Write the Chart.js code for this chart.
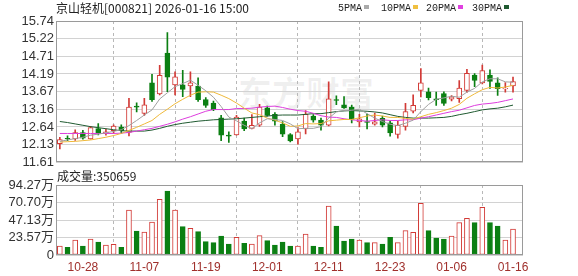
<!DOCTYPE html>
<html>
<head>
<meta charset="utf-8">
<script src="https://cdn.jsdelivr.net/npm/chart.js@4"></script>
<style>
body{margin:0;background:#fff;}
#wrap{position:relative;width:578px;height:276px;overflow:hidden;font-family:"Noto Sans CJK SC",sans-serif;}
.txt{position:absolute;white-space:nowrap;color:#222;}
#title{left:56px;top:1px;font-size:12px;line-height:14px;}
#volTitle{left:57px;top:169px;font-size:12px;line-height:14px;}
.lg{position:absolute;top:3px;font-family:"Liberation Mono",monospace;font-size:10px;line-height:12px;color:#222;}
.lg i{display:inline-block;width:5px;height:4px;margin-left:2px;vertical-align:2px;}
#mark{left:238px;top:72px;font-size:34px;font-weight:bold;color:rgba(0,0,0,0.06);line-height:40px;}
#priceBox{position:absolute;left:0;top:0;width:578px;height:172px;}
#volBox{position:absolute;left:0;top:172px;width:578px;height:104px;}
</style>
</head>
<body>
<div id="wrap">
  <div class="txt" id="mark">东方财富</div>
  <div id="priceBox"><canvas id="price"></canvas></div>
  <div id="volBox"><canvas id="vol"></canvas></div>
  <div class="txt" id="title">京山轻机[000821] 2026-01-16 15:00</div>
  <div class="txt" id="volTitle">成交量:350659</div>
  <div class="lg" style="left:338px">5PMA<i style="background:#aaaaaa"></i></div>
  <div class="lg" style="left:381px">10PMA<i style="background:#f0c040"></i></div>
  <div class="lg" style="left:426px">20PMA<i style="background:#e040e0"></i></div>
  <div class="lg" style="left:472px">30PMA<i style="background:#1f5a30"></i></div>
</div>
<script>
// trading days shown
const dates = ['10-23','10-24','10-27','10-28','10-29','10-30','10-31','11-03','11-04','11-05',
  '11-06','11-07','11-10','11-11','11-12','11-13','11-14','11-17','11-18','11-19',
  '11-20','11-21','11-24','11-25','11-26','11-27','11-28','12-01','12-02','12-03',
  '12-04','12-05','12-08','12-09','12-10','12-11','12-12','12-15','12-16','12-17',
  '12-18','12-19','12-22','12-23','12-24','12-25','12-26','12-29','12-30','12-31',
  '01-05','01-06','01-07','01-08','01-09','01-12','01-13','01-14','01-15','01-16']
const openP = [12.15,12.31,12.29,12.48,12.29,12.59,12.46,12.53,12.64,12.48,
  13.25,13.04,13.93,13.61,14.80,13.87,13.87,13.84,13.84,13.44,
  13.34,12.91,12.40,12.41,12.81,12.60,12.69,13.20,13.01,12.72,
  12.42,12.29,12.58,12.96,12.84,12.69,13.44,13.29,13.22,12.79,
  12.80,12.72,12.89,12.76,12.42,12.66,13.10,13.71,13.67,13.46,
  13.62,13.45,13.47,13.71,14.16,13.93,14.16,13.93,13.75,13.84]
const highP = [12.34,12.38,12.56,12.54,12.66,12.74,12.58,12.70,12.70,13.48,
  13.35,13.48,14.18,14.44,15.40,14.25,14.30,14.25,14.08,13.50,
  13.40,12.98,12.50,12.98,12.90,13.00,13.30,13.25,13.06,12.80,
  12.45,12.62,13.12,13.00,12.90,13.96,13.55,13.53,13.28,13.01,
  13.02,13.05,12.96,12.82,12.81,13.33,13.58,14.35,13.78,13.66,
  13.67,13.56,14.00,14.33,14.20,14.45,14.31,14.08,13.94,14.10]
const lowP = [12.00,12.24,12.25,12.28,12.28,12.41,12.40,12.45,12.45,12.38,
  13.08,12.98,13.39,13.58,13.67,13.58,13.53,13.53,13.39,13.21,
  13.12,12.24,12.19,12.40,12.53,12.58,12.66,12.96,12.69,12.36,
  12.20,12.14,12.44,12.78,12.55,12.67,13.29,13.18,12.76,12.64,
  12.58,12.69,12.64,12.37,12.31,12.55,13.05,13.52,13.43,13.27,
  13.27,13.40,13.36,13.65,13.82,13.90,13.77,13.56,13.66,13.66]
const closeP = [12.27,12.29,12.48,12.31,12.62,12.46,12.50,12.67,12.53,13.22,
  13.22,13.29,13.44,14.15,14.10,14.11,13.74,13.93,13.44,13.27,
  13.15,12.40,12.37,12.93,12.58,12.69,13.22,12.98,12.81,12.43,
  12.23,12.50,13.01,12.84,12.69,13.46,13.42,13.20,12.86,12.88,
  12.77,12.79,12.69,12.47,12.69,13.09,13.27,13.93,13.50,13.44,
  13.33,13.52,13.78,14.21,14.00,14.29,13.97,13.76,13.77,13.97]
const ma5 = [12.22,12.26,12.30,12.34,12.40,12.43,12.47,12.51,12.56,12.68,
  12.83,12.99,13.14,13.46,13.64,13.82,13.91,14.01,13.86,13.70,
  13.51,13.24,12.93,12.82,12.69,12.59,12.76,12.88,12.86,12.83,
  12.73,12.59,12.60,12.60,12.65,12.90,13.08,13.12,13.13,13.16,
  13.03,12.90,12.80,12.72,12.68,12.75,12.84,13.09,13.30,13.45,
  13.49,13.54,13.51,13.66,13.77,13.96,14.05,14.05,13.96,13.95]
const ma10 = [12.20,12.21,12.22,12.24,12.26,12.30,12.34,12.39,12.45,12.54,
  12.63,12.73,12.83,13.01,13.16,13.32,13.45,13.57,13.66,13.67,
  13.66,13.57,13.47,13.34,13.19,13.05,13.00,12.90,12.84,12.76,
  12.66,12.67,12.74,12.73,12.74,12.82,12.84,12.86,12.86,12.91,
  12.96,12.99,12.96,12.92,12.92,12.89,12.87,12.94,13.01,13.06,
  13.12,13.19,13.30,13.48,13.61,13.73,13.80,13.78,13.81,13.86]
const ma20 = [12.45,12.45,12.45,12.45,12.45,12.45,12.45,12.45,12.46,12.48,
  12.52,12.56,12.60,12.66,12.72,12.79,12.87,12.94,13.02,13.10,
  13.15,13.15,13.15,13.18,13.18,13.19,13.22,13.24,13.25,13.21,
  13.16,13.12,13.10,13.04,12.97,12.93,12.92,12.88,12.85,12.83,
  12.81,12.83,12.85,12.83,12.83,12.85,12.85,12.90,12.94,12.99,
  13.04,13.09,13.13,13.20,13.27,13.31,13.33,13.36,13.41,13.46]
const ma30 = [12.80,12.77,12.73,12.69,12.65,12.62,12.59,12.56,12.53,12.52,
  12.52,12.52,12.55,12.60,12.66,12.71,12.75,12.78,12.81,12.83,
  12.85,12.86,12.87,12.88,12.90,12.92,12.94,12.96,12.98,12.99,
  12.99,12.99,13.01,13.03,13.03,13.06,13.09,13.11,13.12,13.11,
  13.10,13.08,13.05,13.00,12.95,12.92,12.90,12.90,12.90,12.91,
  12.92,12.95,13.00,13.04,13.09,13.14,13.17,13.19,13.23,13.28]
// volume in 万
const volume = [12.1,10.3,20.2,12.1,21.6,17.5,13.5,14.4,10.3,60.6,
  32.3,31.0,44.5,75.0,86.2,60.6,38.2,35.9,31.4,18.0,
  16.6,25.6,14.8,23.8,15.7,14.8,26.0,19.3,13.5,17.5,
  12.1,12.1,28.3,12.1,10.3,66.0,39.1,18.9,21.6,20.2,
  16.6,16.6,14.8,23.8,16.6,32.8,30.5,69.6,32.8,22.9,
  21.6,25.6,43.6,49.4,43.6,64.2,43.6,39.1,20.2,35.07]
const volUp = [1,0,1,0,1,0,1,1,0,1, 0,1,1,1,0,1,0,1,0,0,
  0,0,0,1,0,1,1,0,0,0, 0,1,1,0,0,1,0,0,0,1,
  0,1,0,0,1,1,1,1,0,0, 0,1,1,1,0,1,0,0,1,1]
const priceTicks = [11.61,12.13,12.64,13.16,13.67,14.19,14.71,15.22,15.74]
const volTicks = [0,23.57,47.13,70.70,94.27]
const volTickLabels = ['0','23.57万','47.13万','70.70万','94.27万']
const xTickLabels = ['10-28','11-07','11-19','12-01','12-11','12-23','01-06','01-16']

const UP = '#d23a36'
const DOWN = '#0b7f12'
const FONT = "'Liberation Sans','Noto Sans CJK SC',sans-serif"

const frame = {
    id: 'frame',
    afterDraw(chart){
        const a = chart.chartArea
        const c = chart.ctx
        c.save()
        c.strokeStyle = '#9a9a9a'
        c.lineWidth = 1
        c.strokeRect(Math.round(a.left)+0.5, Math.round(a.top)+0.5,
            Math.round(a.right-a.left)-1, Math.round(a.bottom-a.top)-1)
        c.restore()
    }
}

function xAxis(showLabels){
    return {
        type: 'linear', min: -0.5, max: 60.3, offset: false,
        afterBuildTicks: s => { s.ticks = xTickLabels.map(l => ({value: dates.indexOf(l)})) },
        ticks: {
            display: showLabels, autoSkip: false, maxRotation: 0, padding: 5,
            color: '#a0302c', font: {family: FONT, size: 12},
            callback: v => dates[v]
        },
        grid: {color: '#b8b8b8', drawTicks: false},
        border: {display: false, dash: [3,3]},
        afterFit: s => { if(showLabels) s.height = 21 }
    }
}

const isUp = i => closeP[i] >= openP[i]

function maLine(values, color){
    return {
        type: 'line', data: values.map((v,i) => ({x: i, y: v})),
        borderColor: color, borderWidth: 1, pointRadius: 0, tension: 0, order: 0
    }
}

new Chart(document.getElementById('price'), {
    type: 'bar',
    data: {
        datasets: [
            maLine(ma5, '#a0a0a0'),
            maLine(ma10, '#efb93a'),
            maLine(ma20, '#dd3ddd'),
            maLine(ma30, '#1f5a30'),
            {
                data: dates.map((d,i) => ({x: i, y: [Math.min(openP[i],closeP[i]), Math.max(openP[i],closeP[i])]})),
                backgroundColor: ctx => isUp(ctx.dataIndex) ? '#ffffff' : DOWN,
                borderColor: ctx => isUp(ctx.dataIndex) ? UP : DOWN,
                borderWidth: 1, borderSkipped: false, barThickness: 5, grouped: false, order: 1
            },
            {
                data: dates.map((d,i) => ({x: i, y: [lowP[i], highP[i]]})),
                backgroundColor: ctx => isUp(ctx.dataIndex) ? UP : DOWN,
                borderWidth: 0, barThickness: 1, grouped: false, order: 2
            }
        ]
    },
    options: {
        responsive: true, maintainAspectRatio: false, animation: false,
        layout: {padding: {left: 0, top: 21, right: 55, bottom: 7}},
        plugins: {legend: {display: false}, tooltip: {enabled: false}},
        scales: {
            x: xAxis(false),
            y: {
                min: 11.61, max: 15.74,
                afterBuildTicks: s => { s.ticks = priceTicks.map(v => ({value: v})) },
                afterFit: s => { s.width = 56 },
                ticks: {autoSkip: false, padding: 2, color: '#333', font: {family: FONT, size: 13}, callback: v => v.toFixed(2)},
                grid: {color: '#d2d2d2', drawTicks: false},
                border: {display: false}
            }
        }
    },
    plugins: [frame]
})

new Chart(document.getElementById('vol'), {
    type: 'bar',
    data: {
        datasets: [{
            data: volume.map((v,i) => ({x: i, y: v})),
            backgroundColor: ctx => volUp[ctx.dataIndex] ? '#ffffff' : DOWN,
            borderColor: ctx => volUp[ctx.dataIndex] ? UP : DOWN,
            borderWidth: 1, borderSkipped: false, barThickness: 5
        }]
    },
    options: {
        responsive: true, maintainAspectRatio: false, animation: false,
        layout: {padding: {left: 0, top: 13, right: 55, bottom: 0}},
        plugins: {legend: {display: false}, tooltip: {enabled: false}},
        scales: {
            x: xAxis(true),
            y: {
                min: 0, max: 94.27,
                afterBuildTicks: s => { s.ticks = volTicks.map(v => ({value: v})) },
                afterFit: s => { s.width = 56 },
                ticks: {autoSkip: false, padding: 2, color: '#333', font: {family: FONT, size: 13},
                    callback: v => volTickLabels[volTicks.indexOf(v)]},
                grid: {color: '#d2d2d2', drawTicks: false},
                border: {display: false}
            }
        }
    },
    plugins: [frame]
})
</script>
</body>
</html>
